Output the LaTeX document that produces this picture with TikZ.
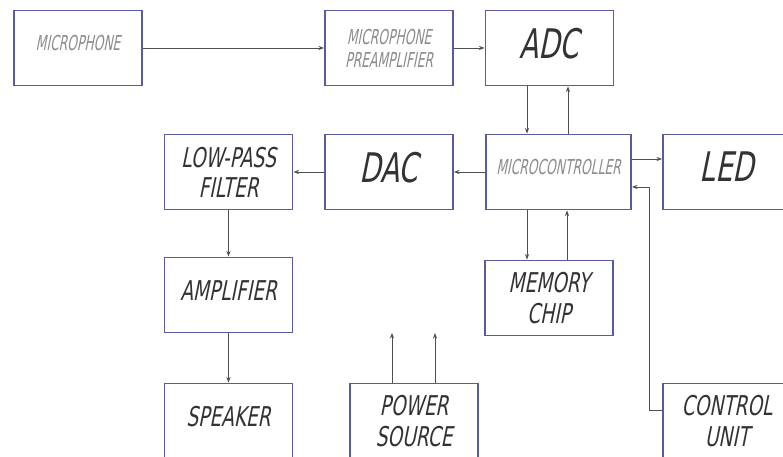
\documentclass[tikz,border=0pt]{standalone}
\usepackage{fontspec}
\newfontfamily\gostfont{DejaVu Sans}[FakeSlant=0.2,FakeStretch=0.68]
\newfontfamily\gostnarrow{DejaVu Sans}[FakeSlant=0.2,FakeStretch=0.6]
\usetikzlibrary{arrows.meta, calc}
\definecolor{boxblue}{HTML}{5A5AA0}
\definecolor{wiregray}{HTML}{505050}
\definecolor{greytext}{HTML}{8C8C8C}
\definecolor{inktext}{HTML}{333333}

\begin{document}
\begin{tikzpicture}[x=0.025cm, y=-0.025cm, >={Stealth[length=4pt,width=3pt]},
  block/.style={draw=boxblue, line width=1.3pt, minimum width=3.2cm, minimum height=1.875cm,
    inner sep=0pt, align=center, text=inktext},
  lift/.style={text depth=7pt},
  small/.style={font=\gostnarrow\fontsize{14.6}{16.5}\selectfont, text=greytext},
  medium/.style={font=\gostfont\fontsize{19.4}{21.5}\selectfont},
  large/.style={font=\gostfont\fontsize{29}{31}\selectfont},
  wire/.style={draw=wiregray, line width=0.7pt}]
  \useasboundingbox (0,0) rectangle (783,457);
  \clip (0,0) rectangle (783,457);
  \fill[white] (0,0) rectangle (783,457);

  \node[block, small, lift] (mic) at (78,48) {MICROPHONE};
  \node[block, small] (pre) at (389,48) {MICROPHONE\\PREAMPLIFIER};
  \node[block, large, lift] (adc) at (549.5,48) {ADC};
  \node[block, small, lift, minimum width=3.625cm] (mcu) at (558.5,172) {MICROCONTROLLER};
  \node[block, large, lift] (led) at (727,172) {LED};
  \node[block, large, lift] (dac) at (389,172) {DAC};
  \node[block, medium] (lpf) at (228.5,172) {LOW-PASS\\FILTER};
  \node[block, medium, lift] (amp) at (228.5,295) {AMPLIFIER};
  \node[block, medium, lift] (spk) at (228.5,421) {SPEAKER};
  \node[block, medium] (pwr) at (414,421) {POWER\\SOURCE};
  \node[block, medium] (mem) at (549,298) {MEMORY\\CHIP};
  \node[block, medium] (ctl) at (727,421) {CONTROL\\UNIT};

  \draw[wire,->] (mic) -- (pre);
  \draw[wire,->] (pre) -- (adc);
  \draw[wire,->] ($(adc.south)+(-22.5,0)$) coordinate (a1) -- (a1 |- mcu.north);
  \draw[wire,->] ($(mcu.north)+(9.5,0)$) coordinate (a2) -- (a2 |- adc.south);
  \draw[wire,->] ($(mcu.east)+(0,-13)$) coordinate (l1) -- (l1 -| led.west);
  \draw[wire,->] (mcu) -- (dac);
  \draw[wire,->] (dac) -- (lpf);
  \draw[wire,->] (lpf) -- (amp);
  \draw[wire,->] (amp) -- (spk);
  \draw[wire,->] ($(mcu.south)+(-31.5,0)$) coordinate (m1) -- (m1 |- mem.north);
  \draw[wire,->] ($(mem.north)+(18,0)$) coordinate (m2) -- (m2 |- mcu.south);
  \draw[wire,->] ($(ctl.west)+(0,-11)$) -- ++(-13,0) |- ($(mcu.east)+(0,15)$);
  \coordinate (vcc1) at (392,333);
  \coordinate (vcc2) at (435,333);
  \draw[wire,->] (pwr.north -| vcc1) -- (vcc1);
  \draw[wire,->] (pwr.north -| vcc2) -- (vcc2);
\end{tikzpicture}
\end{document}
